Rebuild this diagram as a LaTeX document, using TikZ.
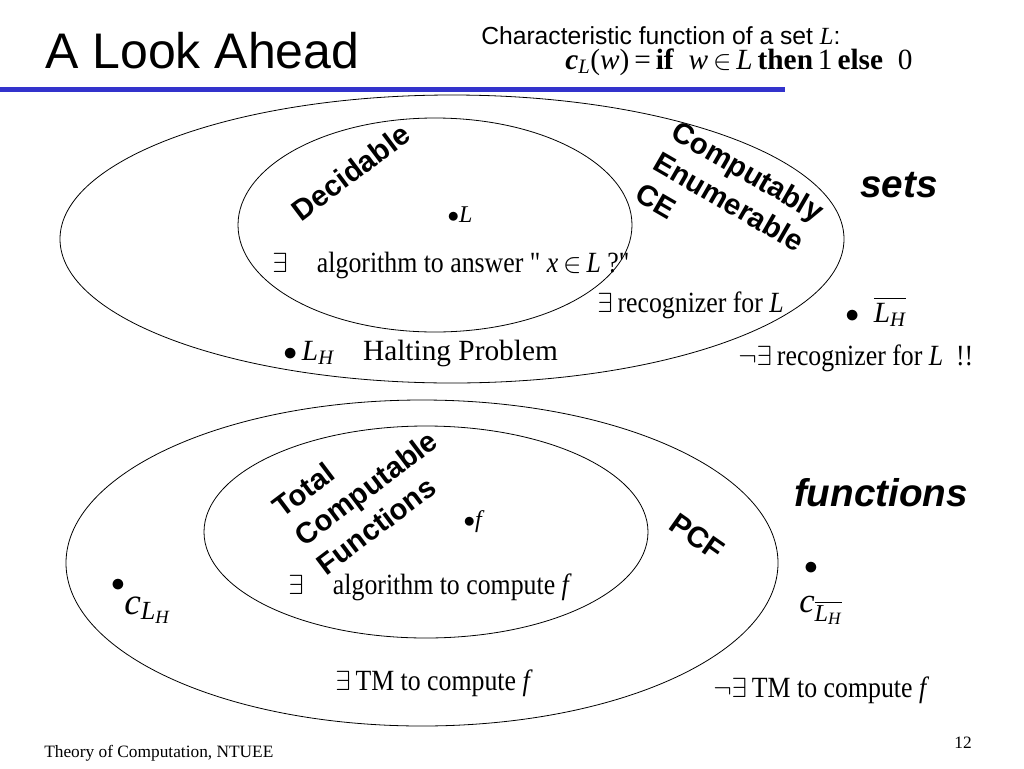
\documentclass[tikz,border=0pt]{standalone}
\usepackage{amsmath}
\usepackage{fontspec}
\setmainfont{Liberation Serif}
\newfontfamily\arialfont{Liberation Sans}
\newfontfamily\narrowfont[FakeStretch=0.88]{Liberation Serif}
\newcommand\straightq{\symbol{34}}
\usetikzlibrary{shapes.geometric}
\definecolor{barblue}{RGB}{51,51,204}
\tikzset{
  setring/.style={ellipse,draw,line width=0.6pt,inner sep=0pt,outer sep=0pt},
  classname/.style={font=\arialfont\bfseries\fontsize{22}{27}\selectfont,align=left,inner sep=0pt},
  kindname/.style={font=\arialfont\bfseries\itshape\fontsize{29}{32}\selectfont,inner sep=0pt},
  remark/.style={font=\narrowfont\fontsize{22}{24}\selectfont,inner sep=0pt},
  member/.style={font=\fontsize{18}{20}\selectfont,inner sep=0pt}
}
\begin{document}
\begin{tikzpicture}[x=0.75pt,y=-0.75pt]
        \useasboundingbox (0,0) rectangle (1024,768);

        % heading
        \node[font=\arialfont\fontsize{37.5}{40}\selectfont,anchor=base west,inner sep=0pt] (title) at (45,68) {A Look Ahead};
        \node[font=\arialfont\fontsize{18.5}{20}\selectfont,anchor=base west,inner sep=0pt] (charfn) at (481,44) {Characteristic function of a set {\rmfamily\itshape L}:};
        \node[font=\fontsize{22}{24}\selectfont,anchor=base west,inner sep=0pt] (chardef) at (565,69) {{\bfseries\itshape c}$_{\textit{L}}$(\textit{w})\,=\,\textbf{if}\ \ \textit{w}\,$\in$\,\textit{L}\,\textbf{then}\,1\,\textbf{else}\ \ 0};
        \fill[barblue] (0,87) rectangle (785,92);

        % sets
        \node[setring,minimum width=588pt,minimum height=216pt] (ce)  at (452,239) {};
        \node[setring,minimum width=295.5pt,minimum height=160.5pt] (dec) at (435,225) {};
        \node[classname,rotate=37] (declab) at (351,172) {Decidable};
        \node[classname,rotate=-30] (celab) at (730,202) {Computably\\Enumerable\\CE};
        \node[kindname] (sets) at (899,185) {sets};
        \node[member] (L) at (460,215) {$\bullet$\textit{L}};
        \node[remark,anchor=base west] (decalg) at (272,272) {$\exists$\quad algorithm to answer \straightq\ \textit{x}\,$\in$\,\textit{L} ?\straightq};
        \node[remark,anchor=base west] (cerec) at (597,312) {$\exists$\,recognizer for \textit{L}};
        \node[font=\fontsize{22}{24}\selectfont,anchor=base west,inner sep=0pt] (LH) at (283,360) {$\bullet$\,\textit{L}$_{\textit{H}}$\quad Halting Problem};
        \node[font=\fontsize{22}{24}\selectfont,anchor=base west,inner sep=0pt] (LHbar) at (845,322) {$\bullet$\ \ $\overline{\textit{L}_{\textit{H}}}$};
        \node[remark,anchor=base west] (norec) at (738,365) {$\neg\exists$\,recognizer for \textit{L}\ \ !!};

        % functions
        \node[setring,minimum width=534pt,minimum height=244.5pt] (pcf) at (422,563) {};
        \node[setring,minimum width=333pt,minimum height=159pt] (tcf) at (426,532) {};
        \node[classname,rotate=37] (tcflab) at (366,488) {Total\\Computable\\Functions};
        \node[classname,rotate=-35] (pcflab) at (697,537) {PCF};
        \node[kindname] (functions) at (881,493) {functions};
        \node[member] (f) at (474,522) {$\bullet$\textit{f}};
        \node[remark,anchor=base west] (tcfalg) at (288,594) {$\exists$\quad algorithm to compute \textit{f}};
        \node[font=\fontsize{22}{24}\selectfont,inner sep=0pt] (cLHdot) at (118,585) {$\bullet$};
        \node[font=\fontsize{28}{30}\selectfont,anchor=base west,inner sep=0pt] (cLH) at (124,614) {\textit{c}$_{\textit{L}_{\textit{H}}}$};
        \node[font=\fontsize{22}{24}\selectfont,inner sep=0pt] (cLHbardot) at (811,568) {$\bullet$};
        \node[font=\fontsize{26}{30}\selectfont,anchor=base west,inner sep=0pt] (cLHbar) at (799,612) {\textit{c}$_{\overline{\textit{L}_{\textit{H}}}}$};
        \node[remark,anchor=base west] (pcftm) at (335,690) {$\exists$\,TM to compute \textit{f}};
        \node[remark,anchor=base west] (notm) at (713,697) {$\neg\exists$\,TM to compute \textit{f}};

        % footer
        \node[font=\fontsize{13}{15}\selectfont,anchor=base west,inner sep=0pt] (footer) at (44,757) {Theory of Computation, NTUEE};
        \node[font=\fontsize{13}{15}\selectfont,anchor=base east,inner sep=0pt] (page) at (972,748) {12};
\end{tikzpicture}
\end{document}
